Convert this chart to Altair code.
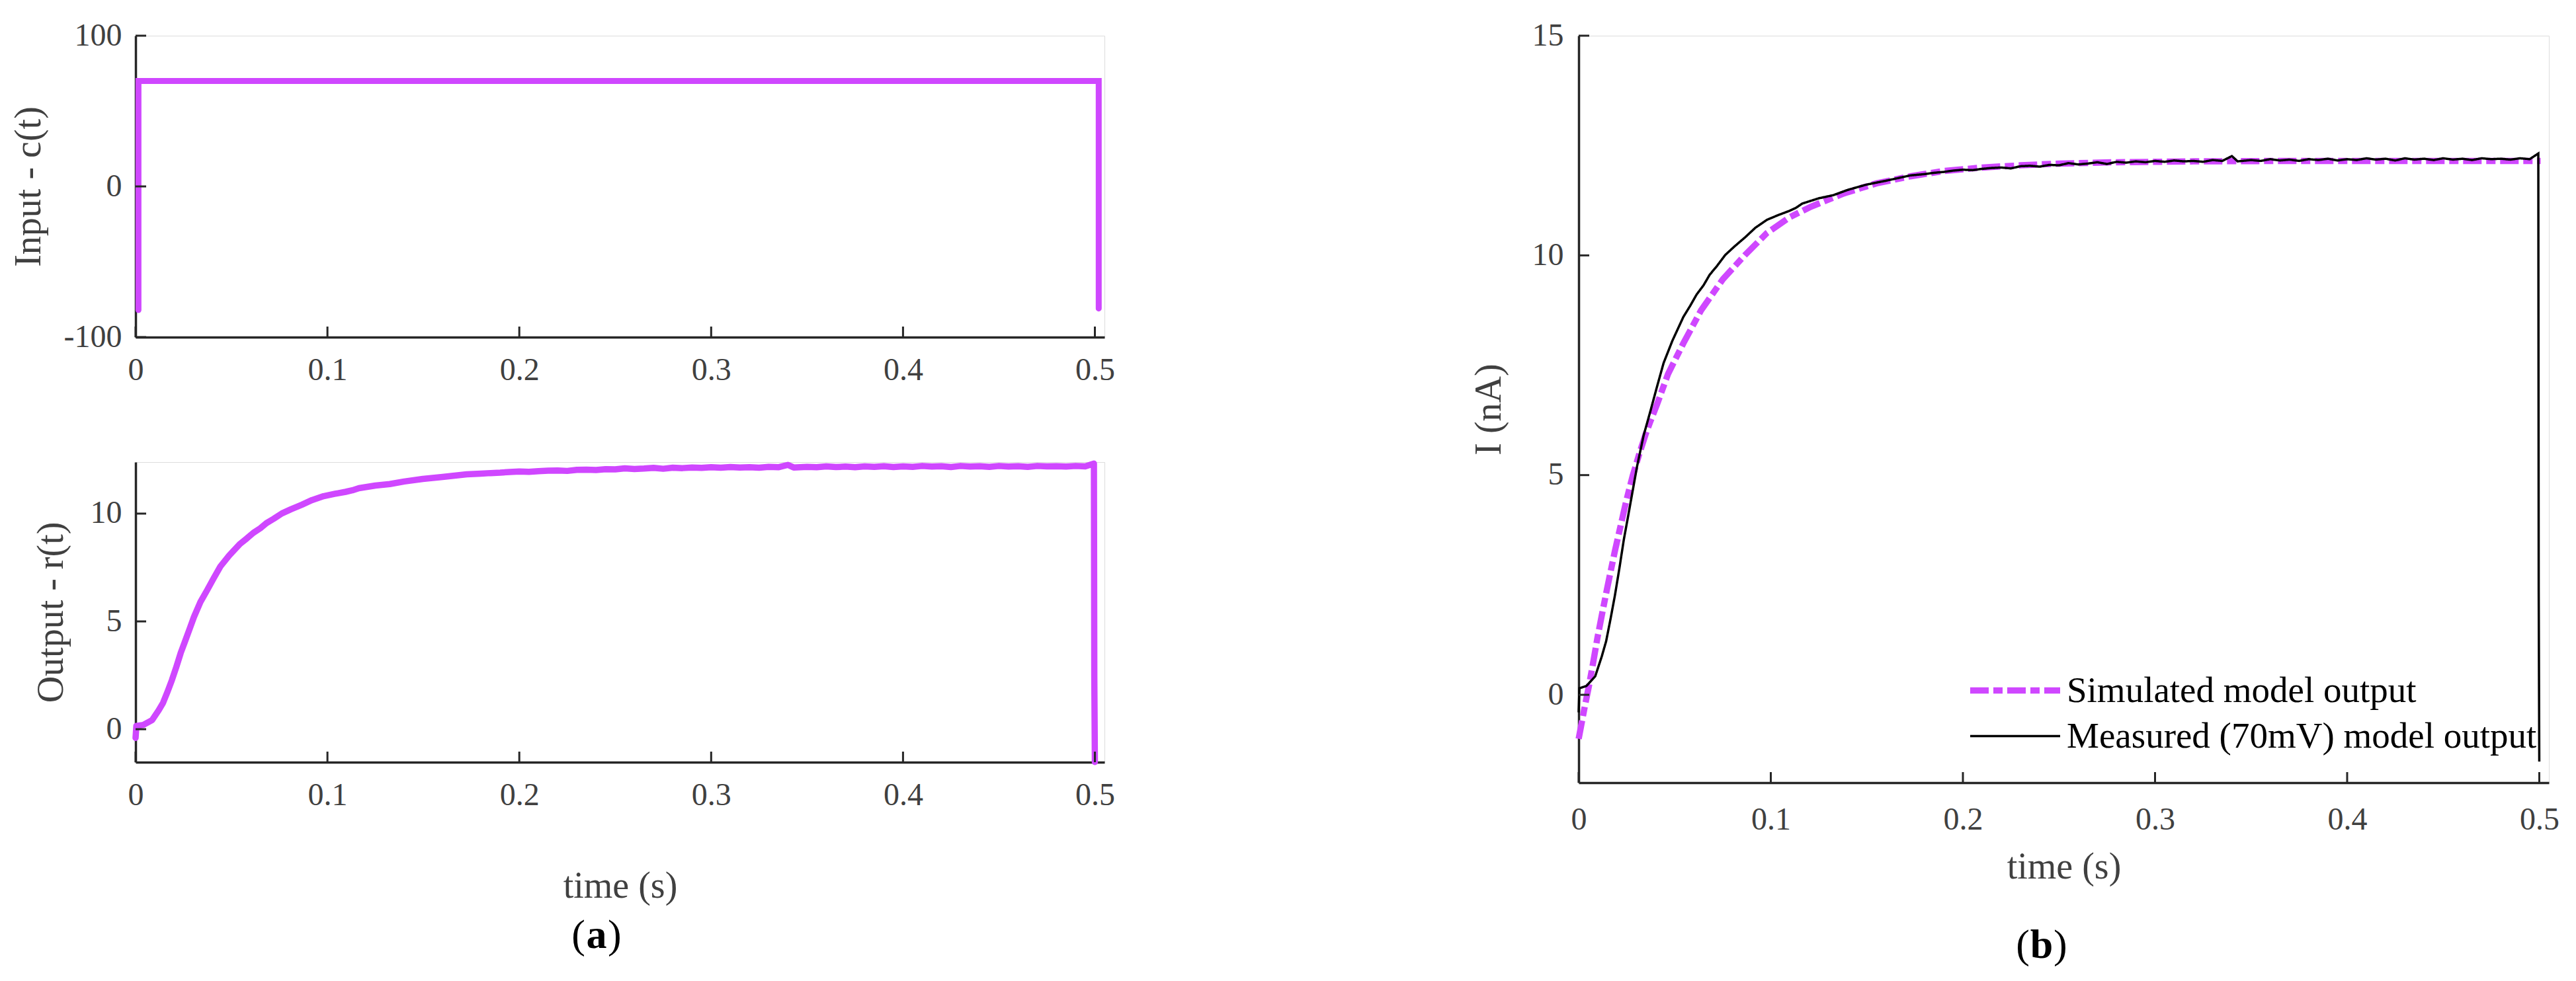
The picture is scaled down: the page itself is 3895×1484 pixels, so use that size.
import altair as alt
import pandas as pd

# ---------------- data ----------------
in_t = [0.0015, 0.0015, 0.5020, 0.5020]
in_c = [-82, 70, 70, -81]

meas_t = [0.0000, 0.0004, 0.0040, 0.0086, 0.0120, 0.0143, 0.0166, 0.0189, 0.0212, 0.0235,
          0.0258, 0.0281, 0.0304, 0.0338, 0.0373, 0.0407, 0.0442, 0.0488, 0.0545, 0.0580,
          0.0614, 0.0650, 0.0682, 0.0720, 0.0763, 0.0810, 0.0866, 0.0920, 0.0980, 0.1040,
          0.1095, 0.1130, 0.1164, 0.1250, 0.1325, 0.1400, 0.1497, 0.1600, 0.1726, 0.1800,
          0.185, 0.190, 0.195, 0.200, 0.205, 0.210, 0.215, 0.220, 0.225, 0.230,
          0.235, 0.240, 0.245, 0.250, 0.255, 0.260, 0.265, 0.270, 0.275, 0.280,
          0.285, 0.290, 0.295, 0.300, 0.305, 0.310, 0.315, 0.320, 0.325, 0.330,
          0.335, 0.340, 0.343, 0.350, 0.355, 0.360, 0.365, 0.370, 0.375, 0.380,
          0.385, 0.390, 0.395, 0.400, 0.405, 0.410, 0.415, 0.420, 0.425, 0.430,
          0.435, 0.440, 0.445, 0.450, 0.455, 0.460, 0.465, 0.470, 0.475, 0.480,
          0.485, 0.490, 0.495, 0.4995, 0.4997, 0.5000]
meas_v = [-0.40, 0.15, 0.20, 0.42, 0.87, 1.22, 1.73, 2.27, 2.88, 3.53,
          4.08, 4.64, 5.20, 5.90, 6.45, 7.00, 7.55, 8.06, 8.60, 8.85,
          9.11, 9.32, 9.56, 9.76, 10.01, 10.20, 10.41, 10.63, 10.81, 10.92,
          11.01, 11.08, 11.18, 11.30, 11.37, 11.49, 11.61, 11.70, 11.82, 11.85,
          11.88, 11.90, 11.93, 11.95, 11.94, 11.97, 11.99, 12.00, 11.98, 12.03,
          12.04, 12.02, 12.06, 12.05, 12.10, 12.07, 12.09, 12.12, 12.08, 12.13,
          12.11, 12.14, 12.12, 12.15, 12.13, 12.16, 12.14, 12.15, 12.13, 12.17,
          12.15, 12.26, 12.14, 12.17, 12.15, 12.19, 12.16, 12.18, 12.15, 12.19,
          12.17, 12.20, 12.16, 12.19, 12.17, 12.21, 12.18, 12.20, 12.16, 12.21,
          12.18, 12.20, 12.17, 12.21, 12.18, 12.20, 12.17, 12.21, 12.19, 12.20,
          12.18, 12.21, 12.19, 12.32, 2.40, -1.52]

sim_t = [0.0000, 0.0029, 0.0052, 0.0075, 0.0097, 0.0120, 0.0143, 0.0166, 0.0189, 0.0218,
         0.0247, 0.0281, 0.0316, 0.0350, 0.0373, 0.0407, 0.0465, 0.0545, 0.0637, 0.0751,
         0.0866, 0.0980, 0.1095, 0.1210, 0.1380, 0.1550, 0.1726, 0.1900, 0.2100, 0.2300,
         0.2500, 0.2800, 0.3200, 0.3700, 0.4300, 0.5007]
sim_v = [-1.00, -0.33, 0.17, 0.72, 1.28, 1.80, 2.31, 2.80, 3.28, 3.84,
         4.40, 4.98, 5.49, 5.95, 6.22, 6.60, 7.30, 8.00, 8.75, 9.46,
         10.01, 10.51, 10.86, 11.11, 11.41, 11.64, 11.80, 11.92, 12.00, 12.05,
         12.09, 12.12, 12.14, 12.15, 12.15, 12.15]

x_ticks = [0, 0.1, 0.2, 0.3, 0.4, 0.5]
in_ticks = [-100, 0, 100]
out_ticks = [0, 5, 10]
b_ticks = [0, 5, 10, 15]

SERIES = ["Simulated model output", "Measured (70mV) model output"]

# ---------------- styling ----------------
MAGENTA = "#CF47FF"
AX = "#262626"
LBL = "#404040"
FONT = "Liberation Serif"
TICK_FS = 48
TITLE_FS = 56
TICKLEN = 16

WA, HA1, HA2 = 1465, 456, 454
WB, HB = 1467, 1130


def xscale():
    return alt.Scale(domain=[0, 0.505], nice=False, zero=False)


def x_axis(title=None, title_pad=0, label_pad=26):
    kw = dict(values=x_ticks, labelExpr="'' + datum.value", ticks=False, grid=False,
              domainColor=AX, domainWidth=3.5, labelPadding=label_pad,
              labelFontSize=TICK_FS, labelFont=FONT, labelColor=LBL,
              labelFlush=False, labelOverlap=False, title=title)
    if title:
        kw.update(titlePadding=title_pad, titleFontSize=TITLE_FS, titleFont=FONT,
                  titleColor=LBL, titleFontWeight="normal")
    return alt.Axis(**kw)


def y_axis(values, title, title_pad, label_pad=21):
    return alt.Axis(values=values, labelExpr="'' + datum.value", ticks=False, grid=False,
                    domainColor=AX, domainWidth=3.5, labelPadding=label_pad,
                    labelFontSize=TICK_FS, labelFont=FONT, labelColor=LBL,
                    labelFlush=False, labelOverlap=False, labelBaseline="middle",
                    title=title, titlePadding=title_pad, titleFontSize=TITLE_FS,
                    titleFont=FONT, titleColor=LBL, titleFontWeight="normal")


def tick_layers(xvals, yvals, yfield, h):
    xt = alt.Chart(pd.DataFrame({"t": xvals})).mark_rule(color=AX, strokeWidth=3).encode(
        x=alt.X("t:Q"), y=alt.value(h), y2=alt.value(h - TICKLEN))
    yt = alt.Chart(pd.DataFrame({yfield: yvals})).mark_rule(color=AX, strokeWidth=3).encode(
        y=alt.Y(f"{yfield}:Q"), x=alt.value(0), x2=alt.value(TICKLEN))
    return [xt, yt]


def paren_label(letter, cx, cy, half):
    base = dict(font=FONT, fontSize=62, baseline="middle", color="black")
    d = pd.DataFrame({"s": [letter]})
    l1 = alt.Chart(d).mark_text(text="(", align="right", **base).encode(
        x=alt.value(cx - half), y=alt.value(cy))
    l2 = alt.Chart(d).mark_text(text=letter, align="center", fontWeight="bold", **base).encode(
        x=alt.value(cx), y=alt.value(cy))
    l3 = alt.Chart(d).mark_text(text=")", align="left", **base).encode(
        x=alt.value(cx + half), y=alt.value(cy))
    return [l1, l2, l3]


# ---------------- panel (a) top ----------------
df_in = pd.DataFrame({"t": in_t, "c": in_c, "idx": range(len(in_t))})
top_line = alt.Chart(df_in).mark_line(color=MAGENTA, strokeWidth=9, strokeCap="round",
                                      strokeJoin="miter").encode(
    x=alt.X("t:Q", scale=xscale(), axis=x_axis(None)),
    y=alt.Y("c:Q", scale=alt.Scale(domain=[-100, 100], nice=False, zero=False),
            axis=y_axis(in_ticks, "Input - c(t)", 24)),
    order=alt.Order("idx:Q"),
)
top = alt.layer(top_line, *tick_layers(x_ticks, in_ticks, "c", HA1)).properties(
    width=WA, height=HA1)

# ---------------- panel (a) bottom ----------------
df_out = pd.DataFrame({"t": meas_t, "r": meas_v, "idx": range(len(meas_t))})
bot_line = alt.Chart(df_out).mark_line(color=MAGENTA, strokeWidth=9.5, strokeCap="round",
                                       strokeJoin="round").encode(
    x=alt.X("t:Q", scale=xscale(), axis=x_axis("time (s)", 86)),
    y=alt.Y("r:Q", scale=alt.Scale(domain=[-1.53, 12.39], nice=False, zero=False),
            axis=y_axis(out_ticks, "Output - r(t)", 30)),
    order=alt.Order("idx:Q"),
)
bottom = alt.layer(bot_line, *tick_layers(x_ticks, out_ticks, "r", HA2),
                   *paren_label("a", 697, 716, 17)).properties(width=WA, height=HA2)

panel_a = alt.vconcat(top, bottom, spacing=111)

# ---------------- panel (b) ----------------
df_b = pd.concat([
    pd.DataFrame({"t": sim_t, "I": sim_v, "series": SERIES[0], "idx": range(len(sim_t))}),
    pd.DataFrame({"t": meas_t, "I": meas_v, "series": SERIES[1], "idx": range(len(meas_t))}),
])

legend = alt.Legend(
    title=None, orient="none", legendX=587, legendY=956, symbolType="stroke",
    symbolSize=18496, labelFont=FONT, labelFontSize=55, labelColor="black",
    labelOffset=5, rowPadding=0, clipHeight=69, padding=0, labelLimit=2000,
)
color = alt.Color("series:N", scale=alt.Scale(domain=SERIES, range=[MAGENTA, "black"]),
                  legend=legend)
dash = alt.StrokeDash("series:N", scale=alt.Scale(domain=SERIES,
                                                  range=[[28, 7, 14, 7], [1, 0]]),
                      legend=legend)
width_enc = alt.StrokeWidth("series:N", scale=alt.Scale(type="point", domain=SERIES,
                                                        range=[9.5, 3.5]),
                            legend=legend)
xb = alt.X("t:Q", scale=xscale(), axis=x_axis("time (s)", 20, label_pad=32))
yb = alt.Y("I:Q", scale=alt.Scale(domain=[-2, 15], nice=False, zero=False),
           axis=y_axis(b_ticks, "I (nA)", 36, label_pad=23))

sim_line = alt.Chart(df_b).transform_filter(
    alt.datum.series == SERIES[0]).mark_line(strokeCap="butt").encode(
    x=xb, y=yb, color=color, strokeDash=dash, strokeWidth=width_enc, order=alt.Order("idx:Q"))
meas_line = alt.Chart(df_b).transform_filter(
    alt.datum.series == SERIES[1]).mark_line().encode(
    x=xb, y=yb, color=color, strokeDash=dash, strokeWidth=width_enc, order=alt.Order("idx:Q"))

panel_b = alt.layer(sim_line, meas_line, *tick_layers(x_ticks, b_ticks, "I", HB),
                    *paren_label("b", 700, 1376, 18)).properties(width=WB, height=HB)

chart = alt.hconcat(panel_a, panel_b, spacing=536).resolve_legend(
    color="independent", strokeDash="independent", strokeWidth="independent"
).properties(
    padding={"left": 6, "top": 21, "right": 5, "bottom": 5}
).configure_view(stroke=None).configure(background="white")

chart.save("out.html", embed_options={"renderer": "svg", "actions": False})
